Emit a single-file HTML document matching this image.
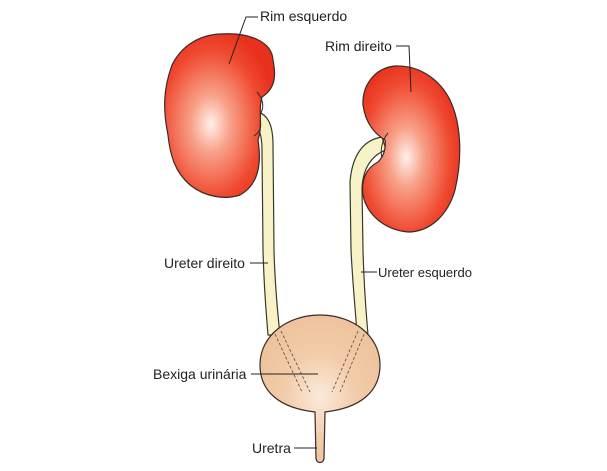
<!DOCTYPE html>
<html><head><meta charset="utf-8"><style>
html,body{margin:0;padding:0;background:#fff;}
svg{display:block}
text{font-family:"Liberation Sans",sans-serif;font-size:14px;fill:#222}
</style></head><body>
<svg width="607" height="471" viewBox="0 0 607 471" xmlns="http://www.w3.org/2000/svg">
<defs>
<radialGradient id="kl" cx="0.42" cy="0.55" r="0.6">
<stop offset="0" stop-color="#fff0ea"/><stop offset="0.3" stop-color="#f8a088"/><stop offset="0.75" stop-color="#ef4a30"/><stop offset="1" stop-color="#e8301c"/>
</radialGradient>
<radialGradient id="kr" cx="0.45" cy="0.55" r="0.6">
<stop offset="0" stop-color="#fff0ea"/><stop offset="0.3" stop-color="#f8a088"/><stop offset="0.75" stop-color="#ef4a30"/><stop offset="1" stop-color="#e8301c"/>
</radialGradient>
<radialGradient id="bl" cx="0.5" cy="0.55" r="0.6">
<stop offset="0" stop-color="#fbeadb"/><stop offset="0.5" stop-color="#f2cba8"/><stop offset="1" stop-color="#ecc29c"/>
</radialGradient>
</defs>
<g stroke="#3a3a2a" stroke-width="1.2" fill="#f7f2c8">
<path d="M258,112 C268,115 273,125 273,145 L274,250 C275,290 278,315 280,335 L268,335 C266,310 264,290 263,250 L262,150 C262,135 259,127 254,122 Z"/>
<path d="M382,137 C362,140 352,157 350,182 L351,250 C353,290 356,315 357,335 L368,335 C366,310 364,290 363,250 L362,188 C363,168 372,155 386,150 Z"/>
</g>
<path d="M220,34 C250,32 272,42 273,60 C276,75 276,88 262,97 C258,110 263,125 258,140 C262,165 258,185 240,195 C225,200 205,197 190,185 C175,172 170,155 168,135 C163,110 163,90 172,65 C182,45 200,35 220,34 Z" fill="url(#kl)" stroke="#3a2a2a" stroke-width="1.2"/>
<path d="M257,92 C264,100 264,108 260,115 M260,120 C262,127 260,132 254,136" fill="none" stroke="#3a2a2a" stroke-width="1"/>
<path d="M395,66 C420,65 440,80 450,100 C462,125 462,160 455,190 C448,215 430,232 408,232 C385,230 367,215 363,195 C361,180 366,168 378,162 C384,156 386,148 385,140 C372,132 365,120 363,105 C362,85 375,68 395,66 Z" fill="url(#kr)" stroke="#3a2a2a" stroke-width="1.2"/>
<path d="M388,133 C382,140 380,150 382,158" fill="none" stroke="#3a2a2a" stroke-width="1"/>
<path d="M320,315 C352,315 380,335 380,365 C380,392 360,408 325,412 L324,458 C324,464 316,464 316,458 L315,412 C280,408 260,392 260,365 C260,335 288,315 320,315 Z" fill="url(#bl)" stroke="#3a2a2a" stroke-width="1.2"/>
<g stroke="#6a5a4a" stroke-width="0.9" stroke-dasharray="3,2" fill="none">
<path d="M275,334 L302,392 M281,331 L310,392"/>
<path d="M358,331 L332,392 M364,334 L340,392"/>
</g>
<g stroke="#222" stroke-width="1" fill="none">
<path d="M258,17 L246,17 L229,64"/>
<path d="M396,46 L409,46 L411,92"/>
<path d="M250,263 L268,263"/>
<path d="M361,272 L377,272"/>
<path d="M251,374 L318,374"/>
<path d="M294,448 L317,448"/>
</g>
<text x="260" y="21">Rim esquerdo</text>
<text x="325" y="51">Rim direito</text>
<text x="164" y="268">Ureter direito</text>
<text x="378" y="277" style="font-size:13px">Ureter esquerdo</text>
<text x="153" y="379">Bexiga urinária</text>
<text x="252" y="453">Uretra</text>
</svg>
</body></html>
